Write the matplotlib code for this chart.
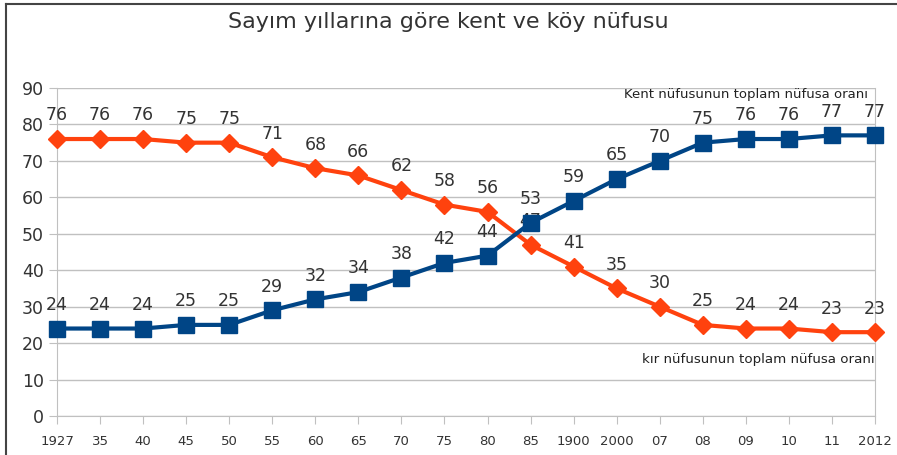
import matplotlib.pyplot as plt
import numpy as np
from matplotlib.lines import Line2D

plt.rcParams['font.family'] = ['DejaVu Sans']

years = ["1927", "35", "40", "45", "50", "55", "60", "65", "70", "75",
         "80", "85", "1900", "2000", "07", "08", "09", "10", "11", "2012"]
kent = [24, 24, 24, 25, 25, 29, 32, 34, 38, 42, 44, 53, 59, 65, 70, 75, 76, 76, 77, 77]
kir = [76, 76, 76, 75, 75, 71, 68, 66, 62, 58, 56, 47, 41, 35, 30, 25, 24, 24, 23, 23]

blue = "#004586"
orange = "#ff420e"
txt = "#333333"
grid_c = "#c0c0c0"

fig = plt.figure(figsize=(8.97, 4.55), dpi=100)
ax = fig.add_axes([57 / 897, 1 - 416 / 455, (875 - 57) / 897, (416 - 88) / 455])

x = np.arange(len(years))

# rural first, so the urban squares sit on top of its labels
ax.plot(x, kir, color=orange, lw=3, marker="D", markersize=9, zorder=3, clip_on=False)
for xi, v in zip(x, kir):
    ax.annotate(str(v), (xi, v), xytext=(0, 17), textcoords="offset points",
                ha="center", va="center", fontsize=12.5, color=txt, zorder=4)

ax.plot(x, kent, color=blue, lw=3, marker="s", markersize=11, zorder=5, clip_on=False)
for xi, v in zip(x, kent):
    ax.annotate(str(v), (xi, v), xytext=(0, 17), textcoords="offset points",
                ha="center", va="center", fontsize=12.5, color=txt, zorder=6)

ax.set_xlim(0, len(years) - 1)
ax.set_ylim(0, 90)
ax.set_yticks(range(0, 91, 10))
ax.set_xticks(x)
ax.set_xticklabels(years, fontsize=9.5, color=txt)
ax.tick_params(axis="y", labelsize=12.5, labelcolor=txt, color=grid_c, length=6)
ax.tick_params(axis="x", color=grid_c, length=6, pad=8)
ax.grid(axis="y", color=grid_c, lw=1)
ax.set_axisbelow(True)
for s in ["left", "bottom", "right"]:
    ax.spines[s].set_color(grid_c)
ax.spines["top"].set_visible(False)

ax.text(0.992, 0.98, "Kent nüfusunun toplam nüfusa oranı", transform=ax.transAxes,
        ha="right", va="center", fontsize=9.5, color="#222222")
ax.text(0.999, 0.172, "kır nüfusunun toplam nüfusa oranı", transform=ax.transAxes,
        ha="right", va="center", fontsize=9.6, color="#222222")

fig.text(0.5, 1 - 22 / 455, "Sayım yıllarına göre kent ve köy nüfusu",
         ha="center", va="center", fontsize=16, color=txt)

# page frame
fig.add_artist(Line2D([6 / 897, 1], [1 - 4 / 455, 1 - 4 / 455], color="#444444", lw=1.5))
fig.add_artist(Line2D([6 / 897, 6 / 897], [0, 1 - 4 / 455], color="#444444", lw=1.5))

fig.savefig("out.png", dpi=100)
